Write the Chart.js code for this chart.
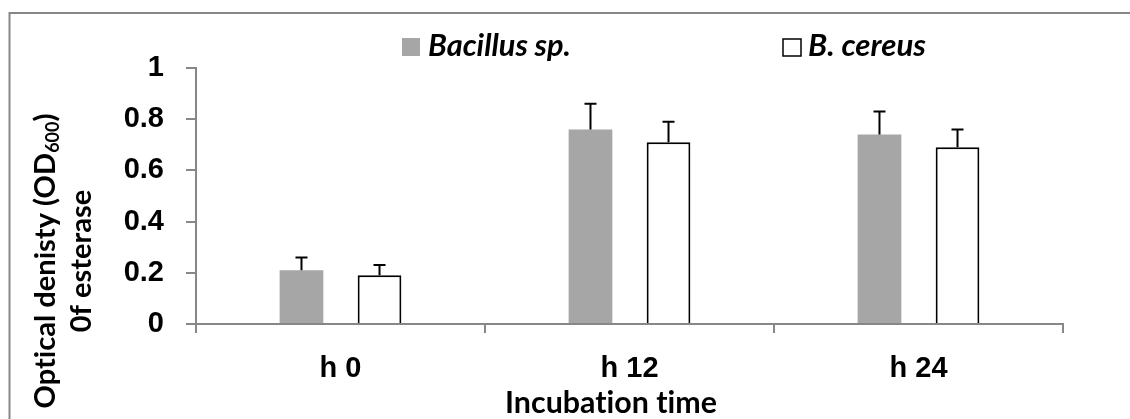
<!DOCTYPE html>
<html lang="en">
<head>
  <meta charset="UTF-8">
  <title>Esterase optical density</title>
  <style>
    html, body {
      margin: 0;
      padding: 0;
      background: #fff;
      overflow: hidden;
    }
    #wrap {
      position: relative;
      width: 1130px;
      height: 419px;
    }
  </style>
  <script src="https://cdn.jsdelivr.net/npm/chart.js"></script>
</head>
<body>
  <div id="wrap">
    <canvas id="odChart" width="1130" height="419"></canvas>
  </div>

  <script>
    // Data
    const categories = ['h 0', 'h 12', 'h 24'];
    const seriesNames = ['Bacillus sp.', 'B. cereus'];
    const bacillusValues = [0.21, 0.76, 0.74];
    const bacillusErrors = [0.05, 0.10, 0.09];
    const cereusValues = [0.19, 0.71, 0.69];
    const cereusErrors = [0.04, 0.08, 0.07];
    const yTickLabels = ['0', '0.2', '0.4', '0.6', '0.8', '1'];

    const axisGray = '#878787';
    const barGray = '#a6a6a6';
    const calibriLike = 'Lato, "Open Sans", sans-serif';

    // scale a font so the text fills a given width
    function fitSize(ctx, text, style, family, width) {
      ctx.font = style + ' 100px ' + family;
      return 100 * width / ctx.measureText(text).width;
    }

    // error bars (upper whisker only, like the original)
    const errorBars = {
      id: 'errorBars',
      afterDatasetsDraw(chart) {
        const ctx = chart.ctx;
        const y = chart.scales.y;
        const errs = [bacillusErrors, cereusErrors];
        ctx.save();
        ctx.strokeStyle = '#000';
        ctx.lineWidth = 2;
        chart.data.datasets.forEach((ds, i) => {
          chart.getDatasetMeta(i).data.forEach((bar, j) => {
            const top = y.getPixelForValue(ds.data[j] + errs[i][j]);
            ctx.beginPath();
            ctx.moveTo(bar.x, bar.y);
            ctx.lineTo(bar.x, top);
            ctx.moveTo(bar.x - 6, top);
            ctx.lineTo(bar.x + 6, top);
            ctx.stroke();
          });
        });
        ctx.restore();
      }
    };

    // frame, legend and axis titles
    const decorations = {
      id: 'decorations',
      afterDraw(chart) {
        const ctx = chart.ctx;
        ctx.save();
        // no "ti" ligature from Lato
        ctx.textRendering = 'optimizeSpeed';

        // outer frame (only top and left edges fall inside the picture)
        ctx.strokeStyle = axisGray;
        ctx.lineWidth = 2;
        ctx.beginPath();
        ctx.moveTo(9.5, 419);
        ctx.lineTo(9.5, 13);
        ctx.lineTo(1130, 13);
        ctx.stroke();

        // legend
        ctx.fillStyle = barGray;
        ctx.fillRect(402, 38, 18, 18);
        ctx.strokeStyle = '#000';
        ctx.lineWidth = 1.5;
        ctx.strokeRect(783, 39, 18, 17);

        ctx.fillStyle = '#000';
        ctx.textAlign = 'left';
        ctx.textBaseline = 'alphabetic';
        let s = fitSize(ctx, seriesNames[0], 'italic bold', calibriLike, 143);
        ctx.font = 'italic bold ' + s + 'px ' + calibriLike;
        ctx.fillText(seriesNames[0], 428, 56);
        s = fitSize(ctx, seriesNames[1], 'italic bold', calibriLike, 118);
        ctx.font = 'italic bold ' + s + 'px ' + calibriLike;
        ctx.fillText(seriesNames[1], 808, 56);

        // x axis title
        s = fitSize(ctx, 'Incubation time', 'bold', calibriLike, 212);
        ctx.font = 'bold ' + s + 'px ' + calibriLike;
        ctx.textAlign = 'center';
        ctx.fillText('Incubation time', 611, 413);

        // y axis title, two rotated lines, with subscript
        const main = 'Optical denisty (OD';
        const sub = '600';
        const close = ')';
        ctx.font = 'bold 100px ' + calibriLike;
        const wMain = ctx.measureText(main).width;
        const wClose = ctx.measureText(close).width;
        ctx.font = 'bold 62px ' + calibriLike;
        const wSub = ctx.measureText(sub).width;
        const fs = 100 * 295 / (wMain + wSub + wClose);
        const total = (wMain + wSub + wClose) * fs / 100;

        ctx.translate(55, 261);
        ctx.rotate(-Math.PI / 2);
        ctx.textAlign = 'left';
        let x0 = -total / 2;
        ctx.font = 'bold ' + fs + 'px ' + calibriLike;
        ctx.fillText(main, x0, 0);
        x0 += wMain * fs / 100;
        ctx.font = 'bold ' + (fs * 0.62) + 'px ' + calibriLike;
        ctx.fillText(sub, x0, fs * 0.14);
        x0 += wSub * fs / 100;
        ctx.font = 'bold ' + fs + 'px ' + calibriLike;
        ctx.fillText(close, x0, 0);

        ctx.textAlign = 'center';
        ctx.fillText('0f esterase', 0, 36);
        ctx.restore();
      }
    };

    const ctx = document.getElementById('odChart').getContext('2d');
    new Chart(ctx, {
      type: 'bar',
      data: {
        labels: categories,
        datasets: [
          {
            label: seriesNames[0],
            data: bacillusValues,
            backgroundColor: barGray,
            borderWidth: 0
          },
          {
            label: seriesNames[1],
            data: cereusValues,
            backgroundColor: '#ffffff',
            borderColor: '#000000',
            borderWidth: 2
          }
        ]
      },
      options: {
        responsive: false,
        animation: false,
        categoryPercentage: 0.54,
        barPercentage: 0.56,
        layout: {
          padding: { top: 68, right: 67, left: 0, bottom: 0 }
        },
        plugins: {
          legend: { display: false },
          tooltip: { enabled: false }
        },
        scales: {
          x: {
            afterFit(scale) { scale.height = 95; },
            grid: {
              offset: true,
              drawOnChartArea: false,
              color: axisGray,
              lineWidth: 2,
              tickLength: 9
            },
            border: { color: axisGray, width: 2 },
            ticks: {
              color: '#000',
              padding: 19,
              font: { family: '"Liberation Sans", Arial, sans-serif', size: 29, weight: 'bold' }
            }
          },
          y: {
            min: 0,
            max: 1,
            afterFit(scale) { scale.width = 196; },
            grid: {
              drawOnChartArea: false,
              color: axisGray,
              lineWidth: 2,
              tickLength: 10
            },
            border: { color: axisGray, width: 2 },
            ticks: {
              stepSize: 0.2,
              color: '#000',
              padding: 22,
              font: { family: '"Liberation Sans", Arial, sans-serif', size: 29, weight: 'bold' },
              callback: (value, index) => yTickLabels[index]
            }
          }
        }
      },
      plugins: [errorBars, decorations]
    });
  </script>
</body>
</html>
